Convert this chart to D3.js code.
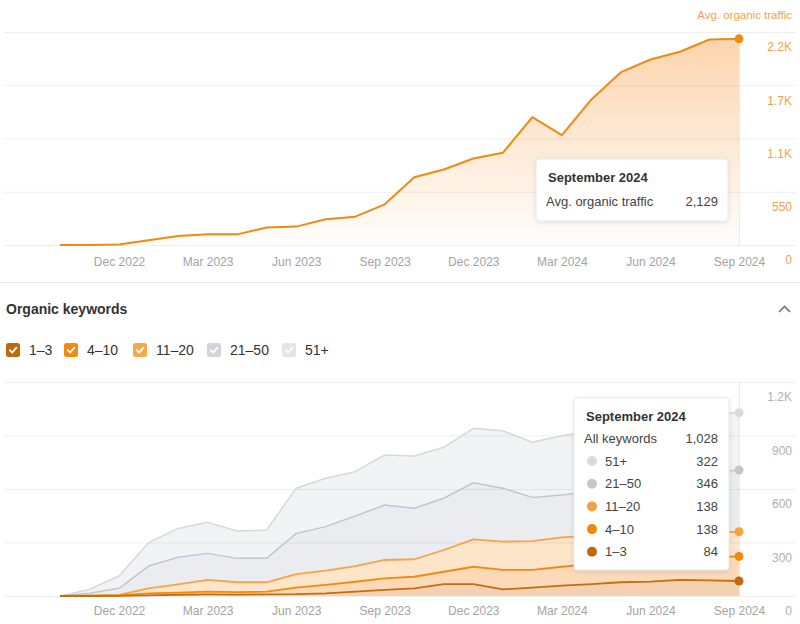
<!DOCTYPE html>
<html><head><meta charset="utf-8">
<script src="https://cdn.jsdelivr.net/npm/d3@7"></script>
<style>
body{margin:0;background:#fff;font-family:"Liberation Sans",Arial,sans-serif;}
svg{display:block;}
</style></head>
<body>
<svg id="c" width="800" height="624"></svg>
<script>
const months = ["Oct 2022","Nov 2022","Dec 2022","Jan 2023","Feb 2023","Mar 2023","Apr 2023","May 2023","Jun 2023","Jul 2023","Aug 2023","Sep 2023","Oct 2023","Nov 2023","Dec 2023","Jan 2024","Feb 2024","Mar 2024","Apr 2024","May 2024","Jun 2024","Jul 2024","Aug 2024","Sep 2024"];
const tickMonths = ["Dec 2022","Mar 2023","Jun 2023","Sep 2023","Dec 2023","Mar 2024","Jun 2024","Sep 2024"];
const traffic = [0,0,5,50,93,110,110,180,190,265,293,420,700,780,893,952,1320,1134,1503,1785,1916,1996,2123,2129];
const trafficTicks = [0,550,1100,1650,2200];
const trafficTickLabels = ["0","550","1.1K","1.7K","2.2K"];
const seriesNames = ["1–3","4–10","11–20","21–50","51+"];
const kw1to3   = [0,0,1,4,7,9,8,9,10,15,24,34,43,67,67,37,47,58,67,77,81,90,88,84];
const kw4to10  = [0,1,2,11,12,15,14,15,37,47,56,65,65,69,97,109,99,106,113,118,124,122,130,138];
const kw11to20 = [0,2,3,28,46,66,55,53,76,80,88,103,98,122,154,159,162,165,158,148,143,140,138,138];
const kw21to50 = [0,12,37,125,152,149,134,134,228,247,281,308,286,290,317,299,245,237,247,272,297,318,336,346];
const kw51plus = [0,22,69,131,162,174,153,159,253,271,248,281,293,286,305,323,309,333,340,340,340,335,328,322];
const kwTicks = [0,300,600,900,1200];
const kwTickLabels = ["0","300","600","900","1.2K"];

const lineColors = ["#c66d0e","#f08a12","#f5a447","#c3c7cc","#d5d8dc"];
const fillColors = ["#f3d1b2","#fcdab8","#fde5ca","#eaecef","#f2f3f5"];
const boxColors  = ["#c0680c","#f28a10","#f7a84a","#d1d5da","#e3e5e8"];
const dotColors  = ["#c4680d","#f08a0b","#f5a243","#c3c7cc","#d8dbdf"];

const svg = d3.select("#c");
const fmt = d3.format(",");
const x = d3.scalePoint().domain(months).range([60,739]);

const defs = svg.append("defs");
const grad = defs.append("linearGradient").attr("id","tg").attr("gradientUnits","userSpaceOnUse")
  .attr("x1",0).attr("y1",32).attr("x2",0).attr("y2",245);
grad.append("stop").attr("offset","0").attr("stop-color","#fbb066").attr("stop-opacity",0.55);
grad.append("stop").attr("offset","1").attr("stop-color","#fbb066").attr("stop-opacity",0.02);
const sh = defs.append("filter").attr("id","sh").attr("x","-20%").attr("y","-20%").attr("width","140%").attr("height","150%");
sh.append("feDropShadow").attr("dx",0).attr("dy",1).attr("stdDeviation",2).attr("flood-color","#000").attr("flood-opacity",0.12);

// ---------- Top chart ----------
const yT = d3.scaleLinear().domain([0,2200]).range([245,32]);
const gT = svg.append("g");
const data = months.map((m,i)=>({m, v: traffic[i]}));
gT.append("path").datum(data)
  .attr("d", d3.area().x(d=>x(d.m)).y0(yT(0)).y1(d=>yT(d.v)))
  .attr("fill","url(#tg)");
gT.selectAll("line.grid").data(trafficTicks).join("line")
  .attr("x1",4).attr("x2",796).attr("y1",d=>yT(d)+0.5).attr("y2",d=>yT(d)+0.5)
  .attr("stroke","#000").attr("stroke-opacity",0.065);
gT.append("line").attr("x1",x("Sep 2024")+0.5).attr("x2",x("Sep 2024")+0.5)
  .attr("y1",32).attr("y2",245).attr("stroke","#000").attr("stroke-opacity",0.08);
gT.append("path").datum(data)
  .attr("d", d3.line().x(d=>x(d.m)).y(d=>yT(d.v)))
  .attr("fill","none").attr("stroke","#f08a10").attr("stroke-width",2).attr("stroke-linejoin","round");
gT.append("circle").attr("cx",x("Sep 2024")).attr("cy",yT(traffic[traffic.length-1])).attr("r",4.5).attr("fill","#f08a10");

const axT = gT.append("g").attr("transform","translate(0,262)")
  .call(d3.axisBottom(x).tickValues(tickMonths).tickSize(0).tickPadding(0));
axT.select(".domain").remove();
axT.selectAll("text").attr("dy","0.35em").attr("fill","#a3a3a3").attr("font-size",12).attr("font-family","Liberation Sans, Arial, sans-serif");

const ayT = gT.append("g").attr("transform","translate(792,15)")
  .call(d3.axisLeft(yT).tickValues(trafficTicks).tickFormat((d,i)=>trafficTickLabels[i]).tickSize(0).tickPadding(0));
ayT.select(".domain").remove();
ayT.selectAll("text").attr("fill","#f2a04c").attr("font-size",12).attr("font-family","Liberation Sans, Arial, sans-serif");
gT.append("text").attr("x",792).attr("y",19).attr("text-anchor","end")
  .attr("font-size",11.5).attr("fill","#f2a04c").text("Avg. organic traffic");

// Tooltip 1
const t1 = gT.append("g").attr("transform","translate(536,159)");
t1.append("rect").attr("width",192).attr("height",62).attr("rx",3).attr("fill","#fff")
  .attr("stroke","#e8e8e8").attr("filter","url(#sh)");
t1.append("text").attr("x",12).attr("y",23).attr("font-size",13).attr("font-weight","bold").attr("fill","#333").text("September 2024");
t1.append("text").attr("x",10).attr("y",47).attr("font-size",13).attr("fill","#444").text("Avg. organic traffic");
t1.append("text").attr("x",182).attr("y",47).attr("text-anchor","end").attr("font-size",13).attr("fill","#444").text(fmt(traffic[traffic.length-1]));

// separator
svg.append("line").attr("x1",0).attr("x2",800).attr("y1",282.5).attr("y2",282.5).attr("stroke","#e9e9e9");

// ---------- Section header ----------
svg.append("text").attr("x",6).attr("y",314).attr("font-size",14).attr("font-weight","bold").attr("fill","#333").text("Organic keywords");
svg.append("path").attr("d","M779,312 L784.5,306.5 L790,312").attr("fill","none").attr("stroke","#777").attr("stroke-width",1.6);

const legendX = [6,64,133,207,282];
const lg = svg.append("g").selectAll("g").data(seriesNames).join("g")
  .attr("transform",(d,i)=>`translate(${legendX[i]},343)`);
lg.append("rect").attr("width",14).attr("height",14).attr("rx",2.5).attr("fill",(d,i)=>boxColors[i]);
lg.append("path").attr("d","M3.8,7.2 L6.2,9.6 L10.4,4.6").attr("fill","none").attr("stroke","#fff").attr("stroke-width",1.8).attr("stroke-linecap","round").attr("stroke-linejoin","round");
lg.append("text").attr("x",23).attr("y",12).attr("font-size",14).attr("fill","#333").text(d=>d);

// ---------- Bottom chart ----------
const yB = d3.scaleLinear().domain([0,1200]).range([596,382]);
const gB = svg.append("g");

const allSeries = [kw1to3,kw4to10,kw11to20,kw21to50,kw51plus];
const table = months.map((m,i)=>{const o={m}; seriesNames.forEach((s,k)=>o[s]=allSeries[k][i]); return o;});
const stack = d3.stack().keys(seriesNames)(table);
const area = d3.area().x(d=>x(d.data.m)).y0(d=>yB(d[0])).y1(d=>yB(d[1]));
const topLine = d3.line().x(d=>x(d.data.m)).y(d=>yB(d[1]));
const layers = stack.slice().reverse();
gB.selectAll("path.a").data(layers).join("path")
  .attr("d",area).attr("fill",d=>fillColors[d.index]);
gB.selectAll("line.grid").data(kwTicks).join("line")
  .attr("x1",4).attr("x2",796).attr("y1",d=>yB(d)+0.5).attr("y2",d=>yB(d)+0.5)
  .attr("stroke","#000").attr("stroke-opacity",0.065);
gB.append("line").attr("x1",x("Sep 2024")+0.5).attr("x2",x("Sep 2024")+0.5)
  .attr("y1",382).attr("y2",596).attr("stroke","#000").attr("stroke-opacity",0.08);
gB.selectAll("path.l").data(layers).join("path")
  .attr("d",topLine).attr("fill","none").attr("stroke",d=>lineColors[d.index]).attr("stroke-width",d=>d.index<3?1.8:1.5).attr("stroke-linejoin","round");
gB.selectAll("circle.d").data(stack).join("circle")
  .attr("cx",x("Sep 2024")).attr("cy",d=>yB(d[d.length-1][1])).attr("r",4.5).attr("fill",d=>dotColors[d.index]);

const axB = gB.append("g").attr("transform","translate(0,611)")
  .call(d3.axisBottom(x).tickValues(tickMonths).tickSize(0).tickPadding(0));
axB.select(".domain").remove();
axB.selectAll("text").attr("dy","0.35em").attr("fill","#a3a3a3").attr("font-size",12).attr("font-family","Liberation Sans, Arial, sans-serif");
const ayB = gB.append("g").attr("transform","translate(792,15)")
  .call(d3.axisLeft(yB).tickValues(kwTicks).tickFormat((d,i)=>kwTickLabels[i]).tickSize(0).tickPadding(0));
ayB.select(".domain").remove();
ayB.selectAll("text").attr("fill","#b0b0b0").attr("font-size",12).attr("font-family","Liberation Sans, Arial, sans-serif");

// Tooltip 2
const last = months.length-1;
const total = allSeries.reduce((s,a)=>s+a[last],0);
const t2 = gB.append("g").attr("transform","translate(574,398)");
t2.append("rect").attr("width",155).attr("height",172).attr("rx",3).attr("fill","#fff")
  .attr("stroke","#e8e8e8").attr("filter","url(#sh)");
t2.append("text").attr("x",12).attr("y",23).attr("font-size",13).attr("font-weight","bold").attr("fill","#333").text("September 2024");
t2.append("text").attr("x",10).attr("y",45).attr("font-size",13).attr("fill","#444").text("All keywords");
t2.append("text").attr("x",144).attr("y",45).attr("text-anchor","end").attr("font-size",13).attr("fill","#444").text(fmt(total));
const rows = seriesNames.map((s,k)=>({s,k,v:allSeries[k][last]})).reverse();
const rg = t2.selectAll("g.r").data(rows).join("g").attr("transform",(d,i)=>`translate(0,${63+i*22.7})`);
rg.append("circle").attr("cx",18).attr("cy",0).attr("r",5).attr("fill",d=>dotColors[d.k]);
rg.append("text").attr("x",31).attr("y",4.5).attr("font-size",13).attr("fill","#444").text(d=>d.s);
rg.append("text").attr("x",144).attr("y",4.5).attr("text-anchor","end").attr("font-size",13).attr("fill","#444").text(d=>fmt(d.v));
</script>
</body></html>
